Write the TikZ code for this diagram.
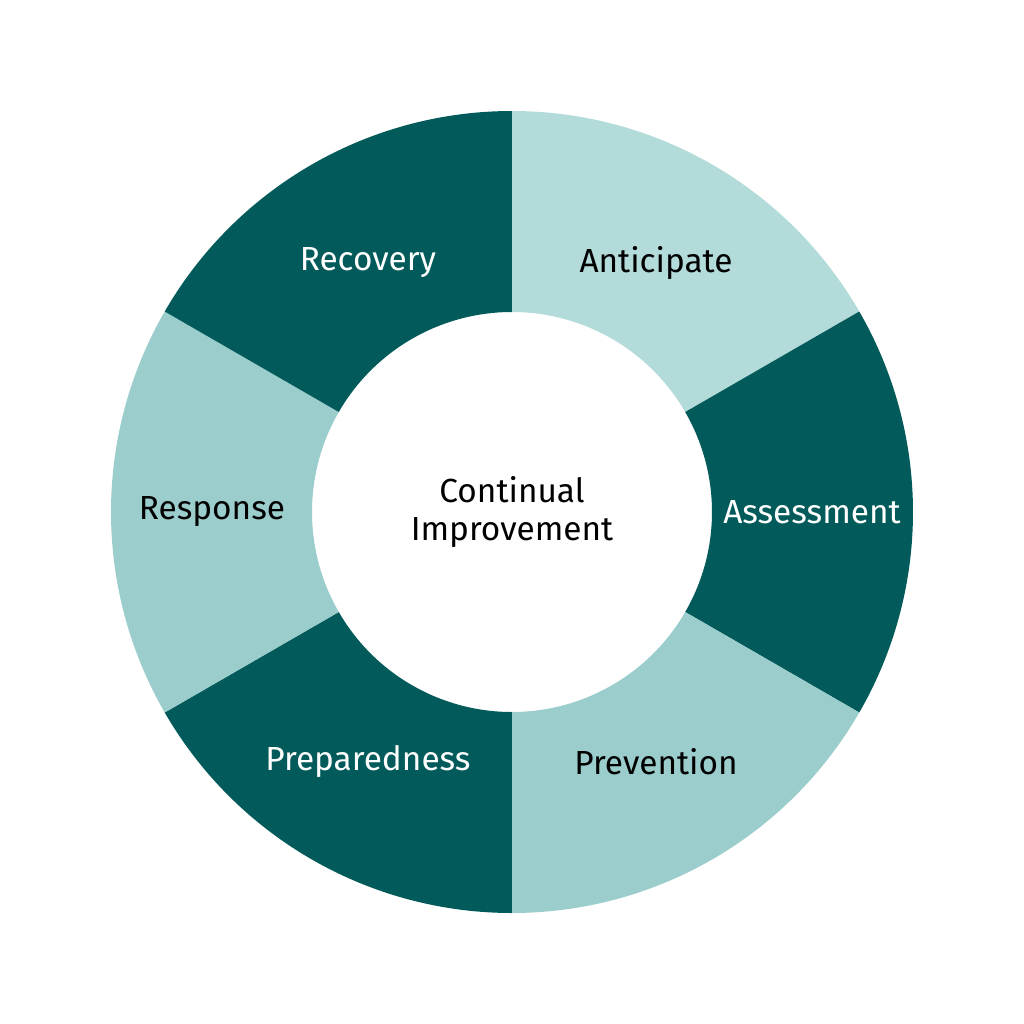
\documentclass[tikz,border=0pt]{standalone}
\usepackage{fontspec}
\setmainfont{Fira Sans}
\definecolor{darkteal}{HTML}{025A5A}
\definecolor{paleteal}{HTML}{B3DBDA}
\definecolor{lightteal}{HTML}{9BCDCD}
\tikzset{
  darklabel/.style={text=white, font=\fontsize{9.5}{11}\selectfont},
  lightlabel/.style={text=black, font=\fontsize{9.5}{11}\selectfont},
}
\newcommand{\ringpart}[3]{%
  \fill[#3] (#1:4.01) arc (#1:#2:4.01) -- (#2:2) arc (#2:#1:2) -- cycle;}
\begin{document}
\begin{tikzpicture}
  \useasboundingbox (-5.12,-5.12) rectangle (5.12,5.12);

  % segments
  \ringpart{30}{90}{paleteal}
  \ringpart{-30}{30}{darkteal}
  \ringpart{-90}{-30}{lightteal}
  \ringpart{-150}{-90}{darkteal}
  \ringpart{150}{210}{lightteal}
  \ringpart{90}{150}{darkteal}

  % labels
  \node[lightlabel] (anticipate) at (60:2.88) {Anticipate};
  \node[darklabel] (assessment) at (0:3.0) {Assessment};
  \node[lightlabel] (prevention) at (-60:2.88) {Prevention};
  \node[darklabel] (preparedness) at (-120:2.88) {Preparedness};
  \node[lightlabel] (response) at (180:3.0) {Response};
  \node[darklabel] (recovery) at (120:2.88) {Recovery};
  \node[lightlabel, align=center] (center) at (0,0) {Continual\\Improvement};
\end{tikzpicture}
\end{document}
